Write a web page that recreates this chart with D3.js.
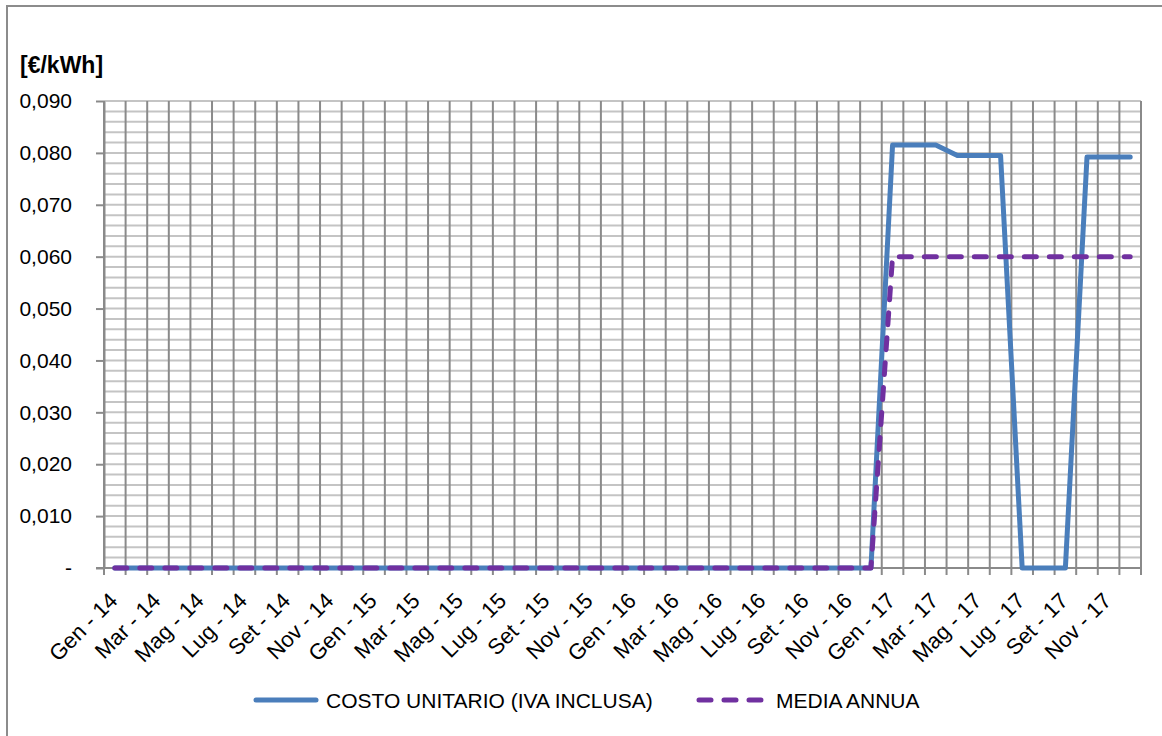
<!DOCTYPE html>
<html>
<head>
<meta charset="utf-8">
<script src="https://cdn.jsdelivr.net/npm/d3@7"></script>
<style>
  html, body { margin: 0; padding: 0; background: #fff; }
  svg { display: block; font-family: "Liberation Sans", Arial, sans-serif; }
</style>
</head>
<body>
<svg id="chart" width="1162" height="736"></svg>
<script>
// Month abbreviations (Italian) and years shown on the category axis
const months = ["Gen", "Feb", "Mar", "Apr", "Mag", "Giu", "Lug", "Ago", "Set", "Ott", "Nov", "Dic"];
const years = ["14", "15", "16", "17"];
const categories = years.flatMap(y => months.map(m => `${m} - ${y}`));

// Monthly unit cost, VAT included [€/kWh]
const costoUnitario = [
  0, 0, 0, 0, 0, 0, 0, 0, 0, 0, 0, 0,
  0, 0, 0, 0, 0, 0, 0, 0, 0, 0, 0, 0,
  0, 0, 0, 0, 0, 0, 0, 0, 0, 0, 0, 0,
  0.0815, 0.0815, 0.0815, 0.0795, 0.0795, 0.0795, 0, 0, 0, 0.0792, 0.0792, 0.0792
];

// Yearly average [€/kWh]
const mediaAnnua = [
  0, 0, 0, 0, 0, 0, 0, 0, 0, 0, 0, 0,
  0, 0, 0, 0, 0, 0, 0, 0, 0, 0, 0, 0,
  0, 0, 0, 0, 0, 0, 0, 0, 0, 0, 0, 0,
  0.060, 0.060, 0.060, 0.060, 0.060, 0.060, 0.060, 0.060, 0.060, 0.060, 0.060, 0.060
];

const yMajorTicks = [0, 0.01, 0.02, 0.03, 0.04, 0.05, 0.06, 0.07, 0.08, 0.09];
const yMinorTicks = d3.range(0, 46).map(i => i * 0.002);

const seriesNames = ["COSTO UNITARIO (IVA INCLUSA)", "MEDIA ANNUA"];
const unitLabel = "[€/kWh]";

const plot = { left: 104, right: 1141, top: 101, bottom: 568 };
const svg = d3.select("#chart");

// Outer chart frame (left and top edges visible)
svg.append("path")
  .attr("d", "M7,736 V6 H1162")
  .attr("fill", "none")
  .attr("stroke", "#8c8c8c")
  .attr("stroke-width", 2);

const x = d3.scaleBand().domain(categories).range([plot.left, plot.right]).padding(0);
const y = d3.scaleLinear().domain([0, 0.09]).range([plot.bottom, plot.top]);
const cx = d => x(d) + x.bandwidth() / 2;

// Horizontal gridlines every 0.002
svg.append("g").selectAll("line")
  .data(yMinorTicks)
  .join("line")
  .attr("x1", plot.left).attr("x2", plot.right)
  .attr("y1", d => y(d)).attr("y2", d => y(d))
  .attr("stroke", "#c4c4c4")
  .attr("stroke-width", 2);

// Vertical gridlines on category boundaries, with ticks below the axis
const boundaries = categories.map(c => x(c)).concat([x.range()[1]]);
svg.append("g").selectAll("line")
  .data(boundaries)
  .join("line")
  .attr("x1", d => d).attr("x2", d => d)
  .attr("y1", plot.top).attr("y2", plot.bottom + 7)
  .attr("stroke", "#8a8a8a")
  .attr("stroke-width", 2);

// Bottom axis line
svg.append("line")
  .attr("x1", plot.left - 8).attr("x2", plot.right)
  .attr("y1", plot.bottom).attr("y2", plot.bottom)
  .attr("stroke", "#8a8a8a")
  .attr("stroke-width", 2);

// Y axis
const fmt = v => v === 0 ? "-" : d3.format(".3f")(v).replace(".", ",");
const yAxis = svg.append("g")
  .attr("transform", `translate(${plot.left},0)`)
  .call(d3.axisLeft(y).tickValues(yMajorTicks).tickFormat(fmt).tickSize(8).tickSizeOuter(0).tickPadding(24));
yAxis.select(".domain").attr("stroke", "#8a8a8a").attr("stroke-width", 2);
yAxis.selectAll(".tick line").attr("stroke", "#8a8a8a").attr("stroke-width", 2);
yAxis.selectAll(".tick text")
  .attr("font-size", 21)
  .attr("font-family", "Liberation Sans, Arial, sans-serif")
  .attr("fill", "#000");

// X axis labels (every other month), rotated
const xAxis = svg.append("g")
  .attr("transform", `translate(0,${plot.bottom})`)
  .call(d3.axisBottom(x).tickValues(categories.filter((d, i) => i % 2 === 0)).tickSize(0));
xAxis.select(".domain").remove();
xAxis.selectAll(".tick text")
  .attr("y", 0).attr("dy", 0)
  .attr("text-anchor", "end")
  .attr("transform", "translate(4,34) rotate(-45)")
  .attr("font-size", 22)
  .attr("font-family", "Liberation Sans, Arial, sans-serif")
  .attr("fill", "#000");

// Unit label
svg.append("text")
  .attr("x", 20).attr("y", 73)
  .attr("font-size", 23)
  .attr("font-weight", "bold")
  .attr("fill", "#000")
  .text(unitLabel);

// Series lines
const line = d3.line().x(d => cx(d.c)).y(d => y(d.v));
const costoData = categories.map((c, i) => ({ c, v: costoUnitario[i] }));
const mediaData = categories.map((c, i) => ({ c, v: mediaAnnua[i] }));

svg.append("path")
  .datum(costoData)
  .attr("d", line)
  .attr("fill", "none")
  .attr("stroke", "#4a7ebb")
  .attr("stroke-width", 5)
  .attr("stroke-linejoin", "round")
  .attr("stroke-linecap", "round");

svg.append("path")
  .datum(mediaData)
  .attr("d", line)
  .attr("fill", "none")
  .attr("stroke", "#7030a0")
  .attr("stroke-width", 5)
  .attr("stroke-dasharray", "12,13")
  .attr("stroke-linejoin", "round")
  .attr("stroke-linecap", "round");

// Legend
const legend = svg.append("g").attr("font-size", 21).attr("fill", "#000");
legend.append("line")
  .attr("x1", 256).attr("x2", 316).attr("y1", 700).attr("y2", 700)
  .attr("stroke", "#4a7ebb").attr("stroke-width", 5).attr("stroke-linecap", "round");
legend.append("text").attr("x", 326).attr("y", 707.5).text(seriesNames[0]);
legend.append("line")
  .attr("x1", 699).attr("x2", 766).attr("y1", 700).attr("y2", 700)
  .attr("stroke", "#7030a0").attr("stroke-width", 5)
  .attr("stroke-dasharray", "12,13").attr("stroke-linecap", "round");
legend.append("text").attr("x", 776).attr("y", 707.5).text(seriesNames[1]);
</script>
</body>
</html>
